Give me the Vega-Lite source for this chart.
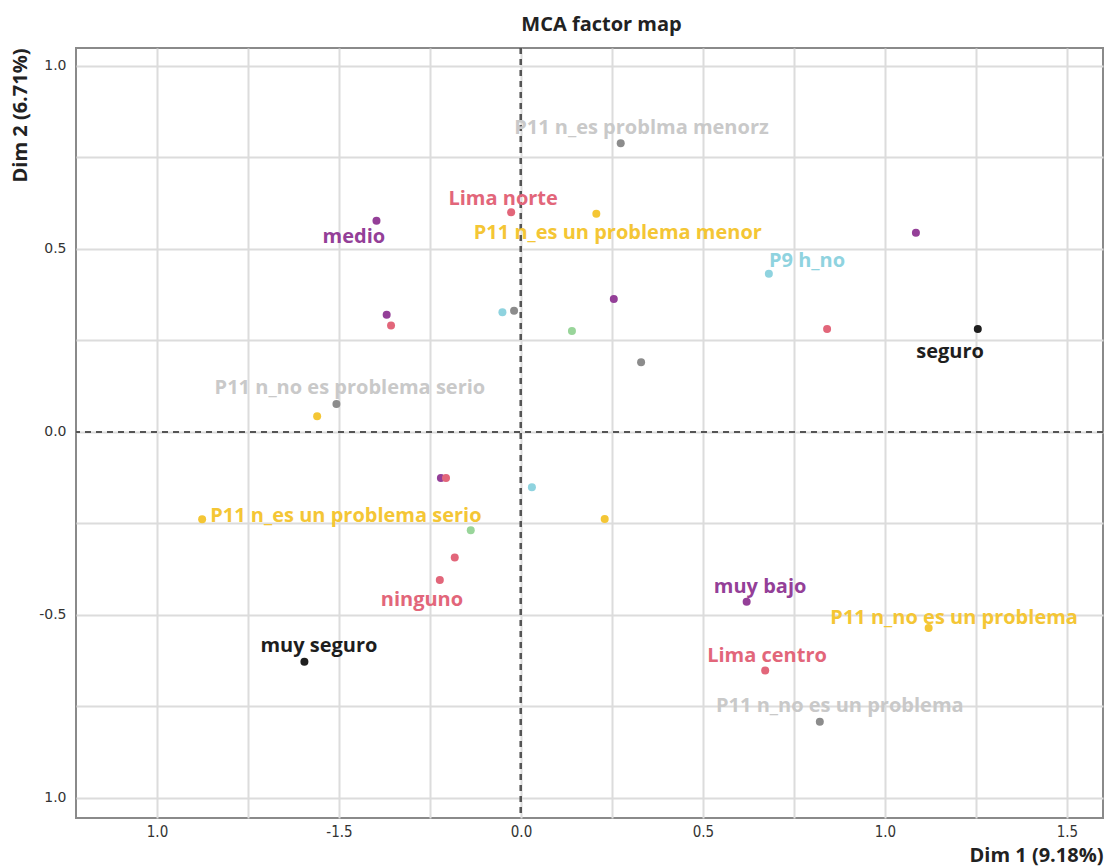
{
  "$schema": "https://vega.github.io/schema/vega-lite/v6.json",
  "autosize": "none",
  "width": 1027,
  "height": 770,
  "padding": {"left": 76, "top": 48, "right": 6, "bottom": 49},
  "background": "white",
  "title": {"text": "MCA factor map", "font": "Open Sans", "fontSize": 20, "fontWeight": "bold", "color": "#222222", "anchor": "middle", "dx": 12, "offset": 12},
  "config": {
    "view": {"stroke": "#8a8a8a", "strokeWidth": 2},
    "axis": {"grid": true, "gridColor": "#dcdcdc", "gridWidth": 2, "domain": false, "ticks": false}
  },
  "data": {"values": [
    {"x": 0.274, "y": 0.789, "group": "P11b", "label": "P11 n_es problma menorz", "lx": 0.331, "ly": 0.831},
    {"x": -0.027, "y": 0.600, "group": "zona", "label": "Lima norte", "lx": -0.049, "ly": 0.637},
    {"x": 0.207, "y": 0.596, "group": "P11", "label": "P11 n_es un problema menor", "lx": 0.266, "ly": 0.544},
    {"x": -0.397, "y": 0.577, "group": "nivel", "label": "medio", "lx": -0.459, "ly": 0.533},
    {"x": -0.369, "y": 0.320, "group": "nivel", "label": ""},
    {"x": -0.357, "y": 0.291, "group": "zona", "label": ""},
    {"x": -0.051, "y": 0.327, "group": "P9", "label": ""},
    {"x": -0.019, "y": 0.331, "group": "P11b", "label": ""},
    {"x": 0.140, "y": 0.276, "group": "otro", "label": ""},
    {"x": 0.255, "y": 0.363, "group": "nivel", "label": ""},
    {"x": 0.330, "y": 0.190, "group": "P11b", "label": ""},
    {"x": -0.507, "y": 0.0765, "group": "P11b", "label": "P11 n_no es problema serio", "lx": -0.470, "ly": 0.120},
    {"x": -0.560, "y": 0.043, "group": "P11", "label": ""},
    {"x": 1.085, "y": 0.544, "group": "nivel", "label": ""},
    {"x": 0.681, "y": 0.432, "group": "P9", "label": "P9 h_no", "lx": 0.786, "ly": 0.467},
    {"x": 0.841, "y": 0.281, "group": "zona", "label": ""},
    {"x": 1.255, "y": 0.281, "group": "seguridad", "label": "seguro", "lx": 1.179, "ly": 0.219},
    {"x": -0.220, "y": -0.126, "group": "nivel", "label": ""},
    {"x": -0.206, "y": -0.126, "group": "zona", "label": ""},
    {"x": 0.030, "y": -0.151, "group": "P9", "label": ""},
    {"x": -0.876, "y": -0.239, "group": "P11", "label": "P11 n_es un problema serio", "lx": -0.481, "ly": -0.230},
    {"x": 0.230, "y": -0.238, "group": "P11", "label": ""},
    {"x": -0.138, "y": -0.269, "group": "otro", "label": ""},
    {"x": -0.182, "y": -0.343, "group": "zona", "label": ""},
    {"x": -0.223, "y": -0.405, "group": "zona", "label": "ninguno", "lx": -0.272, "ly": -0.459},
    {"x": -0.595, "y": -0.628, "group": "seguridad", "label": "muy seguro", "lx": -0.555, "ly": -0.585},
    {"x": 0.620, "y": -0.464, "group": "nivel", "label": "muy bajo", "lx": 0.657, "ly": -0.424},
    {"x": 1.120, "y": -0.536, "group": "P11", "label": "P11 n_no es un problema", "lx": 1.190, "ly": -0.508},
    {"x": 0.671, "y": -0.652, "group": "zona", "label": "Lima centro", "lx": 0.676, "ly": -0.612},
    {"x": 0.821, "y": -0.792, "group": "P11b", "label": "P11 n_no es un problema", "lx": 0.876, "ly": -0.749}
  ]},
  "layer": [
    {
      "mark": {"type": "rule", "color": "#555555", "strokeWidth": 2, "strokeDash": [6, 5]},
      "encoding": {"x": {"datum": 0, "type": "quantitative", "scale": {"domain": [-1.2225, 1.599], "nice": false, "zero": false}}}
    },
    {
      "mark": {"type": "rule", "color": "#555555", "strokeWidth": 2, "strokeDash": [6, 5]},
      "encoding": {"y": {"datum": 0, "type": "quantitative", "scale": {"domain": [-1.055, 1.049], "nice": false, "zero": false}}}
    },
    {
      "transform": [{"filter": "datum.label != ''"}],
      "mark": {"type": "text", "font": "Open Sans", "fontSize": 20, "fontWeight": "bold", "align": "center", "baseline": "middle"},
      "encoding": {
        "x": {"field": "lx", "type": "quantitative"},
        "y": {"field": "ly", "type": "quantitative"},
        "text": {"field": "label"},
        "color": {"field": "group", "type": "nominal", "legend": null,
          "scale": {"domain": ["nivel", "zona", "P11", "P9", "otro", "P11b", "seguridad"],
                    "range": ["#943f98", "#e2667a", "#f4c635", "#8fd3df", "#99d59a", "#c9c9c9", "#1e1e1e"]}}
      }
    },
    {
      "mark": {"type": "circle", "size": 64, "opacity": 1},
      "encoding": {
        "x": {"field": "x", "type": "quantitative", "scale": {"domain": [-1.2225, 1.599], "nice": false, "zero": false},
          "axis": {"values": [-1, -0.75, -0.5, -0.25, 0, 0.25, 0.5, 0.75, 1, 1.25, 1.5],
            "labelExpr": "datum.value == -1 ? '1.0' : datum.value == -0.5 ? '-1.5' : datum.value == 0 ? '0.0' : datum.value == 0.5 ? '0.5' : datum.value == 1 ? '1.0' : datum.value == 1.5 ? '1.5' : ''",
            "labelFont": "DejaVu Sans Condensed", "labelFontSize": 15, "labelColor": "#333333", "labelPadding": 6,
            "title": "Dim 1 (9.18%)", "titleFont": "Open Sans", "titleFontSize": 20, "titleFontWeight": "bold", "titleColor": "#222222", "titleAnchor": "end", "titlePadding": 6}},
        "y": {"field": "y", "type": "quantitative", "scale": {"domain": [-1.055, 1.049], "nice": false, "zero": false},
          "axis": {"values": [-1, -0.75, -0.5, -0.25, 0, 0.25, 0.5, 0.75, 1],
            "labelExpr": "datum.value == -1 ? '1.0' : datum.value == -0.5 ? '-0.5' : datum.value == 0 ? '0.0' : datum.value == 0.5 ? '0.5' : datum.value == 1 ? '1.0' : ''",
            "labelFont": "DejaVu Sans", "labelFontSize": 14, "labelColor": "#333333", "labelPadding": 10,
            "title": "Dim 2 (6.71%)", "titleFont": "Open Sans", "titleFontSize": 20, "titleFontWeight": "bold", "titleColor": "#222222", "titleAnchor": "end", "titlePadding": 8}},
        "color": {"field": "group", "type": "nominal", "legend": null,
          "scale": {"domain": ["nivel", "zona", "P11", "P9", "otro", "P11b", "seguridad"],
                    "range": ["#943f98", "#e2667a", "#f4c635", "#8fd3df", "#99d59a", "#8c8c8c", "#1e1e1e"]}}
      }
    }
  ],
  "resolve": {"scale": {"color": "independent"}}
}
